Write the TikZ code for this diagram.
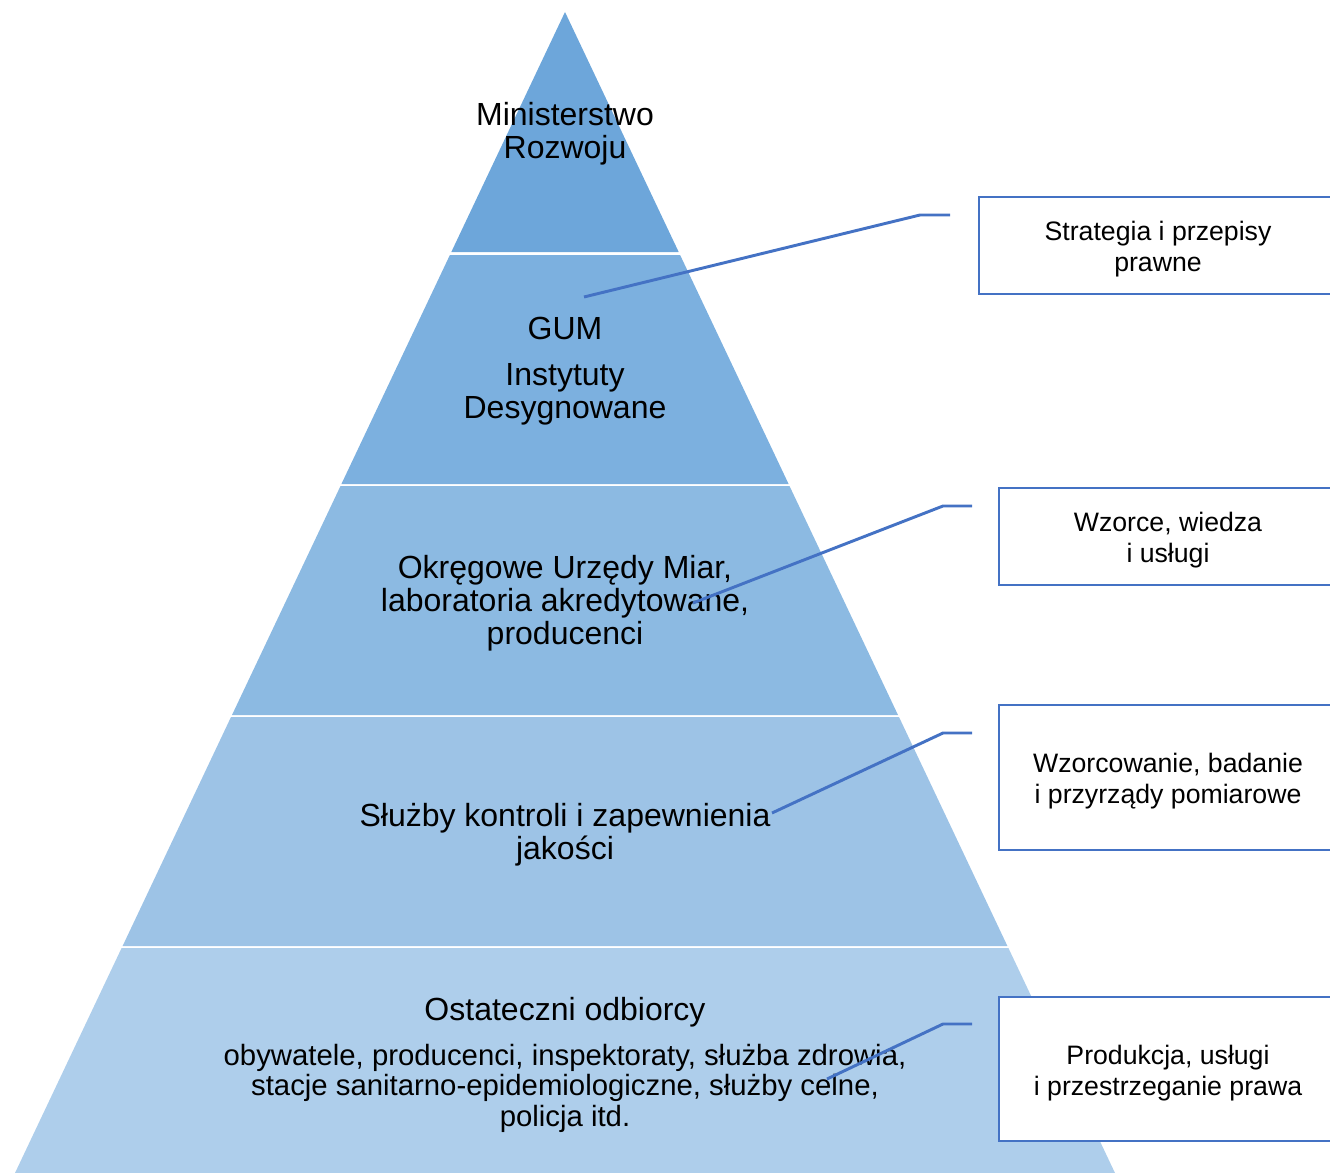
\documentclass[tikz,border=0pt]{standalone}
\usepackage{fontspec}
\setmainfont{Liberation Sans}
\definecolor{tierA}{HTML}{6DA6DA}
\definecolor{tierB}{HTML}{7CB0DF}
\definecolor{tierC}{HTML}{8CBAE2}
\definecolor{tierD}{HTML}{9DC3E6}
\definecolor{tierE}{HTML}{AECEEB}
\definecolor{boxblue}{HTML}{4472C4}
\begin{document}
\begin{tikzpicture}[x=0.75pt,y=-0.75pt,
	tiertext/.style={align=center, inner sep=0pt, font=\fontsize{24}{24.75}\selectfont},
	tiersmall/.style={align=center, inner sep=0pt, font=\fontsize{22}{22.9}\selectfont},
	sidebox/.style={draw=boxblue, line width=2.2pt, fill=white, inner sep=0pt, minimum width=253.5pt},
	boxtext/.style={align=center, inner sep=0pt, font=\fontsize{20}{23.25}\selectfont},
	leader/.style={draw=boxblue, line width=2.2pt}]
	\useasboundingbox (0,0) rectangle (1330,1173);
	\clip (0,0) rectangle (1330,1173);
	% Pyramid tiers
	\fill [tierA] (565,12) -- (678.7,252) -- (451.3,252) -- cycle;
	\fill [tierB] (449.9,255) -- (680.1,255) -- (788.6,484) -- (341.4,484) -- cycle;
	\fill [tierC] (340.5,486) -- (789.5,486) -- (898.0,715) -- (232.0,715) -- cycle;
	\fill [tierD] (231.0,717) -- (899.0,717) -- (1007.4,946) -- (122.6,946) -- cycle;
	\fill [tierE] (121.6,948) -- (1008.4,948) -- (1115.0,1173) -- (15.0,1173) -- cycle;
	% Tier labels
	\node [tiertext] (ministry) at (565,134) {Ministerstwo\\Rozwoju};
	\node [tiertext] (gum) at (565,371) {GUM\\[10pt]Instytuty\\Desygnowane};
	\node [tiertext] (oum) at (565,603) {Okręgowe Urzędy Miar,\\laboratoria akredytowane,\\producenci};
	\node [tiertext] (services) at (565,835) {Służby kontroli i zapewnienia\\jakości};
	\node [tiertext] (users) at (565,1012) {Ostateczni odbiorcy};
	\node [tiersmall] (userlist) at (565,1088) {obywatele, producenci, inspektoraty, służba zdrowia,\\stacje sanitarno-epidemiologiczne, służby celne,\\policja itd.};
	% Side boxes
	\node [sidebox, minimum width=268.5pt, minimum height=72.75pt] (strategy) at (1158,245.5) {};
	\node [sidebox, minimum height=72.75pt] (standards) at (1168,536.5) {};
	\node [sidebox, minimum height=108.75pt] (calibration) at (1168,777.5) {};
	\node [sidebox, minimum height=108pt] (production) at (1168,1069) {};
	\node [boxtext] (strategytext) at ([yshift=-3pt]strategy.center) {Strategia i przepisy\\prawne};
	\node [boxtext] (standardstext) at ([yshift=-3pt]standards.center) {Wzorce, wiedza\\i usługi};
	\node [boxtext] (calibrationtext) at ([yshift=-3pt]calibration.center) {Wzorcowanie, badanie\\i przyrządy pomiarowe};
	\node [boxtext] (productiontext) at ([yshift=-3pt]production.center) {Produkcja, usługi\\i przestrzeganie prawa};
	% Leader lines
	\coordinate (s1) at (584,297);  \coordinate (k1) at (920,215);  \coordinate (e1) at (950,215);
	\coordinate (s2) at (693,603);  \coordinate (k2) at (943,506);  \coordinate (e2) at (972,506);
	\coordinate (s3) at (772,813);  \coordinate (k3) at (943,733);  \coordinate (e3) at (972,733);
	\coordinate (s4) at (827,1079); \coordinate (k4) at (943,1024); \coordinate (e4) at (972,1024);
	\draw [leader] (s1) -- (k1) -- (e1);
	\draw [leader] (s2) -- (k2) -- (e2);
	\draw [leader] (s3) -- (k3) -- (e3);
	\draw [leader] (s4) -- (k4) -- (e4);
\end{tikzpicture}
\end{document}
